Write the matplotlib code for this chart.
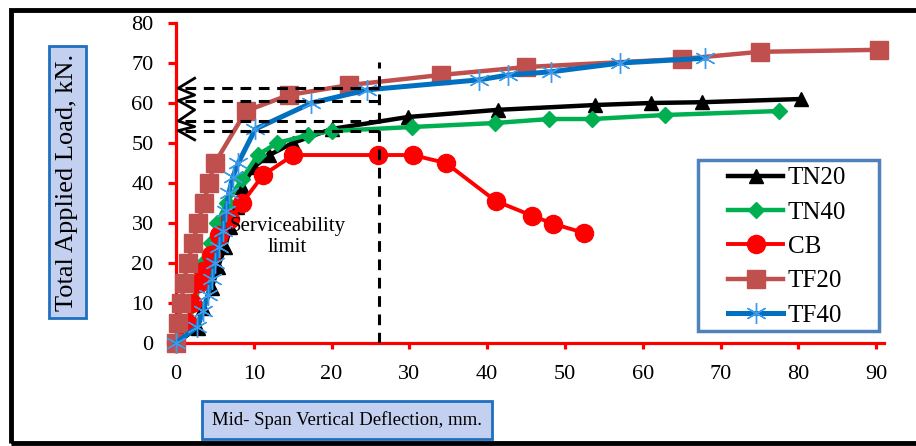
import numpy as np
import matplotlib.pyplot as plt
from matplotlib.patches import Rectangle

plt.rcParams['font.family'] = ['Liberation Serif', 'DejaVu Serif']

# load-deflection readings (mm, kN)
tn20_x = [0, 2.8, 3.5, 4.6, 5.4, 6.3, 7.0, 7.8, 8.5, 10.0, 12.0, 15.0, 20.0, 29.8, 41.4, 53.9, 61.0, 67.6, 80.3]
tn20_y = [0, 3.8, 8.8, 13.8, 19.0, 24.0, 29.0, 34.0, 39.0, 44.0, 47.0, 50.0, 53.5, 56.5, 58.3, 59.5, 60.0, 60.2, 61.0]

tn40_x = [0, 1.5, 2.5, 3.0, 3.5, 4.5, 5.3, 6.5, 8.5, 10.5, 13.0, 17.0, 20.0, 30.3, 41.0, 48.0, 53.5, 62.8, 77.5]
tn40_y = [0, 5.0, 10.0, 15.0, 20.0, 25.0, 30.0, 35.0, 41.0, 47.0, 50.0, 52.0, 53.0, 54.0, 55.0, 56.0, 56.0, 57.0, 58.0]

cb_x = [0, 1.5, 2.0, 3.0, 3.5, 4.5, 5.5, 7.0, 8.5, 11.2, 15.1, 26.0, 30.4, 34.7, 41.1, 45.8, 48.5, 52.5]
cb_y = [0, 5.0, 10.0, 15.0, 18.0, 22.0, 27.0, 31.0, 35.0, 42.0, 47.0, 47.0, 47.0, 45.0, 35.5, 31.8, 29.8, 27.5]

tf20_x = [0, 0.3, 0.7, 1.0, 1.5, 2.2, 2.8, 3.6, 4.2, 5.0, 9.0, 14.5, 22.3, 34.0, 45.0, 65.0, 75.0, 90.3]
tf20_y = [0, 5.0, 10.0, 15.0, 20.0, 25.0, 30.0, 35.0, 40.0, 45.0, 58.0, 62.0, 64.5, 67.0, 69.0, 71.0, 72.8, 73.3]

tf40_x = [0, 2.7, 3.5, 4.1, 4.6, 5.0, 5.5, 6.0, 6.4, 6.8, 7.3, 8.0, 10.2, 17.4, 24.6, 39.0, 42.7, 48.2, 57.1, 68.0]
tf40_y = [0, 4.0, 8.0, 12.0, 16.0, 20.0, 24.0, 28.0, 33.0, 37.5, 41.5, 45.0, 53.5, 60.0, 63.3, 65.8, 67.0, 67.8, 70.0, 71.2]

# serviceability limit guides
service_x = 26.1
service_top = 70.3
guide_levels = [63.7, 60.6, 55.5, 53.1]
zig_y = [66.2, 63.7, 62.0, 60.6, 58.3, 55.5, 54.1, 53.1, 50.8]

fig = plt.figure(figsize=(9.16, 4.46), dpi=100)
ax = fig.add_axes([0.1921, 0.2309, 0.773, 0.7175])

ax.plot(tn20_x, tn20_y, color='black', lw=3.2, marker='^', ms=10, label='TN20', clip_on=False, zorder=3)
ax.plot(tn40_x, tn40_y, color='#00B050', lw=3.2, marker='D', ms=8, label='TN40', clip_on=False, zorder=4)
ax.plot(cb_x, cb_y, color='#FF0000', lw=2.8, marker='o', ms=13, label='CB', clip_on=False, zorder=5)
ax.plot(tf20_x, tf20_y, color='#C0504D', lw=3.2, marker='s', ms=13, label='TF20', clip_on=False, zorder=6)
ax.plot(tf40_x, tf40_y, color='#0070C0', lw=3.6, marker=(6, 2, 0), ms=15, mew=1,
        mec='#3D9BE9', label='TF40', clip_on=False, zorder=7)

# dashed guide lines and zigzag arrows
ax.plot([service_x, service_x], [0, service_top], color='black', lw=2.2, ls=(0, (3.5, 2.5)), zorder=8)
for lv in guide_levels:
    ax.plot([1.2, service_x], [lv, lv], color='black', lw=2.2, ls=(0, (3.5, 2.5)), zorder=8)
zig_x = [2.4 if i % 2 == 0 else 0.3 for i in range(len(zig_y))]
ax.plot(zig_x, zig_y, color='black', lw=2.0, zorder=8, clip_on=False)

ax.text(14.3, 26.5, 'Serviceability\nlimit', fontsize=15, ha='center', va='center',
        linespacing=1.1, zorder=9)

ax.set_xlim(0, 91)
ax.set_ylim(0, 80)
ax.set_xticks(np.arange(0, 91, 10))
ax.set_yticks(np.arange(0, 81, 10))
for s in ['top', 'right']:
    ax.spines[s].set_visible(False)
for s in ['left', 'bottom']:
    ax.spines[s].set_color('red')
    ax.spines[s].set_linewidth(2.3)
ax.tick_params(axis='both', colors='red', labelcolor='black', width=2.3, labelsize=16)
ax.tick_params(axis='y', length=6, pad=10)
ax.tick_params(axis='x', length=4, pad=12)

# legend without frame, box drawn separately
leg = ax.legend(loc='upper left', bbox_to_anchor=(728 / 916, (446 - 167) / 446),
                bbox_transform=fig.transFigure, fontsize=18, frameon=False,
                handlelength=2.2, handletextpad=0.2, labelspacing=0.47, borderpad=0,
                borderaxespad=0)
fig.patches.append(Rectangle((698 / 916, (446 - 331) / 446), 181 / 916, 171 / 446,
                             transform=fig.transFigure, fill=False, edgecolor='#4F81BD', lw=2.5))

box = dict(boxstyle='square,pad=0.3', facecolor='#c3d0ef', edgecolor='#1f6fc0', linewidth=2)
fig.text(67.5 / 916, (446 - 182) / 446, 'Total Applied Load, kN.', rotation=90,
         ha='center', va='center', fontsize=19, bbox=box)
fig.text(347 / 916, (446 - 420) / 446, 'Mid- Span Vertical Deflection, mm.',
         ha='center', va='center', fontsize=13.5, bbox=dict(box, boxstyle='square,pad=0.55'))

# outer frame
fig.patches.append(Rectangle((11 / 916, 3 / 446), 1.05, 433 / 446, transform=fig.transFigure,
                             fill=False, edgecolor='black', lw=3.5, clip_on=False))

fig.savefig('out.png', dpi=100)
